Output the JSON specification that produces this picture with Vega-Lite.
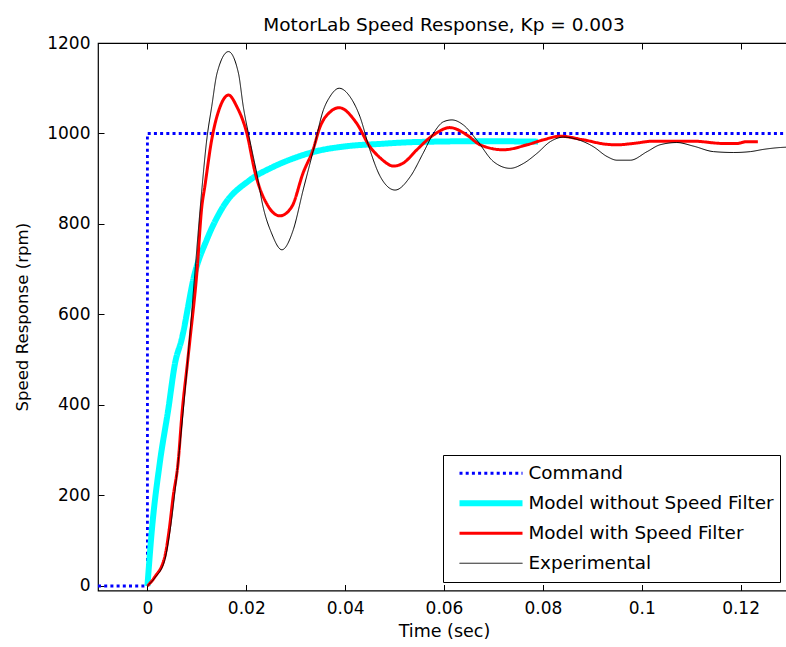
{
  "$schema": "https://vega.github.io/schema/vega-lite/v6.json",
  "width": 692,
  "height": 547.5,
  "autosize": {"type": "none"},
  "padding": {"left": 98, "top": 43, "right": 0, "bottom": 56.5},
  "background": "white",
  "config": {
    "font": "DejaVu Sans",
    "view": {"stroke": "black", "strokeWidth": 1.2}
  },
  "title": {
    "text": "MotorLab Speed Response, Kp = 0.003",
    "fontSize": 18.5,
    "fontWeight": "normal",
    "color": "black",
    "offset": 4,
    "dy": 4,
    "anchor": "middle"
  },
  "data": {
    "values": [
      {"s": "Command", "t": -0.01, "v": 0},
      {"s": "Command", "t": 0, "v": 0},
      {"s": "Command", "t": 0, "v": 1000},
      {"s": "Command", "t": 0.13, "v": 1000},

      {"s": "Model without Speed Filter", "t": 0, "v": 0},
      {"s": "Model without Speed Filter", "t": 0.0009, "v": 124},
      {"s": "Model without Speed Filter", "t": 0.0025, "v": 272},
      {"s": "Model without Speed Filter", "t": 0.0042, "v": 389},
      {"s": "Model without Speed Filter", "t": 0.0056, "v": 493},
      {"s": "Model without Speed Filter", "t": 0.0069, "v": 544},
      {"s": "Model without Speed Filter", "t": 0.0096, "v": 692},
      {"s": "Model without Speed Filter", "t": 0.0120, "v": 765},
      {"s": "Model without Speed Filter", "t": 0.0153, "v": 838},
      {"s": "Model without Speed Filter", "t": 0.0207, "v": 897},
      {"s": "Model without Speed Filter", "t": 0.0254, "v": 926},
      {"s": "Model without Speed Filter", "t": 0.0303, "v": 948},
      {"s": "Model without Speed Filter", "t": 0.0335, "v": 959},
      {"s": "Model without Speed Filter", "t": 0.0404, "v": 972},
      {"s": "Model without Speed Filter", "t": 0.0471, "v": 977},
      {"s": "Model without Speed Filter", "t": 0.0538, "v": 981},
      {"s": "Model without Speed Filter", "t": 0.0673, "v": 983},
      {"s": "Model without Speed Filter", "t": 0.0790, "v": 982},

      {"s": "Model with Speed Filter", "t": 0, "v": 0},
      {"s": "Model with Speed Filter", "t": 0.0015, "v": 20},
      {"s": "Model with Speed Filter", "t": 0.0035, "v": 64},
      {"s": "Model with Speed Filter", "t": 0.0044, "v": 124},
      {"s": "Model with Speed Filter", "t": 0.0052, "v": 197},
      {"s": "Model with Speed Filter", "t": 0.0062, "v": 272},
      {"s": "Model with Speed Filter", "t": 0.0070, "v": 382},
      {"s": "Model with Speed Filter", "t": 0.0081, "v": 493},
      {"s": "Model with Speed Filter", "t": 0.0086, "v": 544},
      {"s": "Model with Speed Filter", "t": 0.0100, "v": 692},
      {"s": "Model with Speed Filter", "t": 0.0110, "v": 838},
      {"s": "Model with Speed Filter", "t": 0.0116, "v": 882},
      {"s": "Model with Speed Filter", "t": 0.0130, "v": 986},
      {"s": "Model with Speed Filter", "t": 0.0147, "v": 1059},
      {"s": "Model with Speed Filter", "t": 0.0164, "v": 1085},
      {"s": "Model with Speed Filter", "t": 0.0181, "v": 1059},
      {"s": "Model with Speed Filter", "t": 0.0201, "v": 1001},
      {"s": "Model with Speed Filter", "t": 0.0218, "v": 913},
      {"s": "Model with Speed Filter", "t": 0.0245, "v": 838},
      {"s": "Model with Speed Filter", "t": 0.0268, "v": 818},
      {"s": "Model with Speed Filter", "t": 0.0292, "v": 838},
      {"s": "Model with Speed Filter", "t": 0.0315, "v": 913},
      {"s": "Model with Speed Filter", "t": 0.0335, "v": 964},
      {"s": "Model with Speed Filter", "t": 0.0349, "v": 1014},
      {"s": "Model with Speed Filter", "t": 0.0370, "v": 1048},
      {"s": "Model with Speed Filter", "t": 0.0388, "v": 1057},
      {"s": "Model with Speed Filter", "t": 0.0423, "v": 1023},
      {"s": "Model with Speed Filter", "t": 0.0450, "v": 971},
      {"s": "Model with Speed Filter", "t": 0.0471, "v": 946},
      {"s": "Model with Speed Filter", "t": 0.0498, "v": 928},
      {"s": "Model with Speed Filter", "t": 0.0518, "v": 935},
      {"s": "Model with Speed Filter", "t": 0.0545, "v": 964},
      {"s": "Model with Speed Filter", "t": 0.0579, "v": 997},
      {"s": "Model with Speed Filter", "t": 0.0612, "v": 1013},
      {"s": "Model with Speed Filter", "t": 0.0646, "v": 997},
      {"s": "Model with Speed Filter", "t": 0.0673, "v": 975},
      {"s": "Model with Speed Filter", "t": 0.0720, "v": 964},
      {"s": "Model with Speed Filter", "t": 0.0768, "v": 975},
      {"s": "Model with Speed Filter", "t": 0.0801, "v": 986},
      {"s": "Model with Speed Filter", "t": 0.0835, "v": 994},
      {"s": "Model with Speed Filter", "t": 0.0882, "v": 986},
      {"s": "Model with Speed Filter", "t": 0.0930, "v": 976},
      {"s": "Model with Speed Filter", "t": 0.0950, "v": 975},
      {"s": "Model with Speed Filter", "t": 0.0983, "v": 978},
      {"s": "Model with Speed Filter", "t": 0.1023, "v": 983},
      {"s": "Model with Speed Filter", "t": 0.1104, "v": 983},
      {"s": "Model with Speed Filter", "t": 0.1165, "v": 978},
      {"s": "Model with Speed Filter", "t": 0.1193, "v": 978},
      {"s": "Model with Speed Filter", "t": 0.1213, "v": 982},
      {"s": "Model with Speed Filter", "t": 0.1235, "v": 982},

      {"s": "Experimental", "t": 0, "v": 0},
      {"s": "Experimental", "t": 0.0015, "v": 18},
      {"s": "Experimental", "t": 0.0035, "v": 57},
      {"s": "Experimental", "t": 0.0046, "v": 124},
      {"s": "Experimental", "t": 0.0062, "v": 272},
      {"s": "Experimental", "t": 0.0072, "v": 382},
      {"s": "Experimental", "t": 0.0085, "v": 544},
      {"s": "Experimental", "t": 0.0096, "v": 692},
      {"s": "Experimental", "t": 0.0110, "v": 875},
      {"s": "Experimental", "t": 0.0120, "v": 986},
      {"s": "Experimental", "t": 0.0130, "v": 1059},
      {"s": "Experimental", "t": 0.0141, "v": 1134},
      {"s": "Experimental", "t": 0.0164, "v": 1181},
      {"s": "Experimental", "t": 0.0184, "v": 1134},
      {"s": "Experimental", "t": 0.0194, "v": 1059},
      {"s": "Experimental", "t": 0.0207, "v": 986},
      {"s": "Experimental", "t": 0.0221, "v": 913},
      {"s": "Experimental", "t": 0.0234, "v": 838},
      {"s": "Experimental", "t": 0.0251, "v": 780},
      {"s": "Experimental", "t": 0.0272, "v": 743},
      {"s": "Experimental", "t": 0.0295, "v": 787},
      {"s": "Experimental", "t": 0.0315, "v": 875},
      {"s": "Experimental", "t": 0.0336, "v": 964},
      {"s": "Experimental", "t": 0.0356, "v": 1052},
      {"s": "Experimental", "t": 0.0369, "v": 1081},
      {"s": "Experimental", "t": 0.0388, "v": 1100},
      {"s": "Experimental", "t": 0.0410, "v": 1081},
      {"s": "Experimental", "t": 0.0430, "v": 1037},
      {"s": "Experimental", "t": 0.0450, "v": 964},
      {"s": "Experimental", "t": 0.0471, "v": 905},
      {"s": "Experimental", "t": 0.0501, "v": 875},
      {"s": "Experimental", "t": 0.0532, "v": 905},
      {"s": "Experimental", "t": 0.0558, "v": 957},
      {"s": "Experimental", "t": 0.0579, "v": 1001},
      {"s": "Experimental", "t": 0.0599, "v": 1026},
      {"s": "Experimental", "t": 0.0616, "v": 1030},
      {"s": "Experimental", "t": 0.0639, "v": 1019},
      {"s": "Experimental", "t": 0.0666, "v": 986},
      {"s": "Experimental", "t": 0.0700, "v": 938},
      {"s": "Experimental", "t": 0.0734, "v": 923},
      {"s": "Experimental", "t": 0.0761, "v": 934},
      {"s": "Experimental", "t": 0.0788, "v": 956},
      {"s": "Experimental", "t": 0.0815, "v": 982},
      {"s": "Experimental", "t": 0.0842, "v": 992},
      {"s": "Experimental", "t": 0.0869, "v": 987},
      {"s": "Experimental", "t": 0.0902, "v": 971},
      {"s": "Experimental", "t": 0.0930, "v": 949},
      {"s": "Experimental", "t": 0.0950, "v": 941},
      {"s": "Experimental", "t": 0.0977, "v": 941},
      {"s": "Experimental", "t": 0.1011, "v": 960},
      {"s": "Experimental", "t": 0.1037, "v": 975},
      {"s": "Experimental", "t": 0.1071, "v": 980},
      {"s": "Experimental", "t": 0.1105, "v": 972},
      {"s": "Experimental", "t": 0.1145, "v": 960},
      {"s": "Experimental", "t": 0.1186, "v": 958},
      {"s": "Experimental", "t": 0.1220, "v": 960},
      {"s": "Experimental", "t": 0.1247, "v": 965},
      {"s": "Experimental", "t": 0.1280, "v": 969},
      {"s": "Experimental", "t": 0.1300, "v": 970}
    ]
  },
  "resolve": {"axis": {"x": "independent", "y": "independent"}},
  "layer": [
    {
      "encoding": {
        "x": {
          "field": "t",
          "type": "quantitative",
          "scale": {"domain": [-0.01, 0.13], "nice": false, "zero": false},
          "axis": {
            "orient": "bottom",
            "values": [0, 0.02, 0.04, 0.06, 0.08, 0.1, 0.12],
            "format": "~g",
            "grid": false,
            "domain": false,
            "tickSize": -6,
            "tickColor": "black",
            "labelColor": "black",
            "labelFontSize": 17,
            "labelPadding": 15.5,
            "title": "Time (sec)",
            "titleFontSize": 17.5,
            "titleFontWeight": "normal",
            "titleColor": "black",
            "titlePadding": 6
          }
        },
        "y": {
          "field": "v",
          "type": "quantitative",
          "scale": {"domain": [-10, 1200], "nice": false, "zero": false},
          "axis": {
            "orient": "left",
            "values": [0, 200, 400, 600, 800, 1000, 1200],
            "format": "d",
            "grid": false,
            "domain": false,
            "tickSize": -6,
            "tickColor": "black",
            "labelColor": "black",
            "labelFontSize": 17,
            "labelPadding": 14,
            "title": "Speed Response (rpm)",
            "titleFontSize": 16.6,
            "titleFontWeight": "normal",
            "titleColor": "black",
            "titlePadding": 16
          }
        },
        "color": {
          "field": "s",
          "type": "nominal",
          "scale": {
            "domain": ["Command", "Model without Speed Filter", "Model with Speed Filter", "Experimental"],
            "range": ["#0000ff", "#00ffff", "#ff0000", "#000000"]
          },
          "legend": {
            "orient": "none",
            "legendX": 345,
            "legendY": 412,
            "title": null,
            "symbolType": "stroke",
            "symbolSize": 3969,
            "symbolOffset": 8,
            "clipHeight": 25.5,
            "rowPadding": 4,
            "labelFontSize": 18.4,
            "labelColor": "black",
            "labelOffset": 3,
            "labelLimit": 400,
            "padding": 5.5,
            "strokeColor": "black",
            "fillColor": "white"
          }
        },
        "strokeWidth": {
          "field": "s",
          "type": "nominal",
          "scale": {
            "type": "ordinal",
            "domain": ["Command", "Model without Speed Filter", "Model with Speed Filter", "Experimental"],
            "range": [2.8, 6, 3, 1]
          },
          "legend": {
            "orient": "none",
            "legendX": 345,
            "legendY": 412,
            "title": null,
            "symbolType": "stroke",
            "symbolSize": 3969,
            "symbolOffset": 8,
            "clipHeight": 25.5,
            "rowPadding": 4,
            "labelFontSize": 18.4,
            "labelColor": "black",
            "labelOffset": 3,
            "labelLimit": 400,
            "padding": 5.5,
            "strokeColor": "black",
            "fillColor": "white"
          }
        },
        "strokeDash": {
          "field": "s",
          "type": "nominal",
          "scale": {
            "type": "ordinal",
            "domain": ["Command", "Model without Speed Filter", "Model with Speed Filter", "Experimental"],
            "range": [[3, 3.2], [1, 0], [1, 0], [1, 0]]
          },
          "legend": {
            "orient": "none",
            "legendX": 345,
            "legendY": 412,
            "title": null,
            "symbolType": "stroke",
            "symbolSize": 3969,
            "symbolOffset": 8,
            "clipHeight": 25.5,
            "rowPadding": 4,
            "labelFontSize": 18.4,
            "labelColor": "black",
            "labelOffset": 3,
            "labelLimit": 400,
            "padding": 5.5,
            "strokeColor": "black",
            "fillColor": "white"
          }
        },
        "order": {"value": null}
      },
      "layer": [
        {
          "transform": [{"filter": "datum.s === 'Command'"}],
          "mark": {"type": "line", "clip": true, "strokeCap": "butt"}
        },
        {
          "transform": [{"filter": "datum.s === 'Model without Speed Filter'"}],
          "mark": {"type": "line", "clip": true, "interpolate": "monotone"}
        },
        {
          "transform": [{"filter": "datum.s === 'Model with Speed Filter'"}],
          "mark": {"type": "line", "clip": true, "interpolate": "monotone"}
        },
        {
          "transform": [{"filter": "datum.s === 'Experimental'"}],
          "mark": {"type": "line", "clip": true, "interpolate": "monotone"}
        }
      ]
    },
    {
      "transform": [{"filter": "datum.s === 'Command'"}],
      "mark": {"type": "point", "opacity": 0},
      "encoding": {
        "x": {
          "field": "t",
          "type": "quantitative",
          "scale": {"domain": [-0.01, 0.13], "nice": false, "zero": false},
          "axis": {
            "orient": "top",
            "values": [0, 0.02, 0.04, 0.06, 0.08, 0.1, 0.12],
            "labels": false,
            "title": null,
            "grid": false,
            "domain": false,
            "tickSize": -6,
            "tickColor": "black"
          }
        },
        "y": {"field": "v", "type": "quantitative", "axis": null}
      }
    }
  ]
}
